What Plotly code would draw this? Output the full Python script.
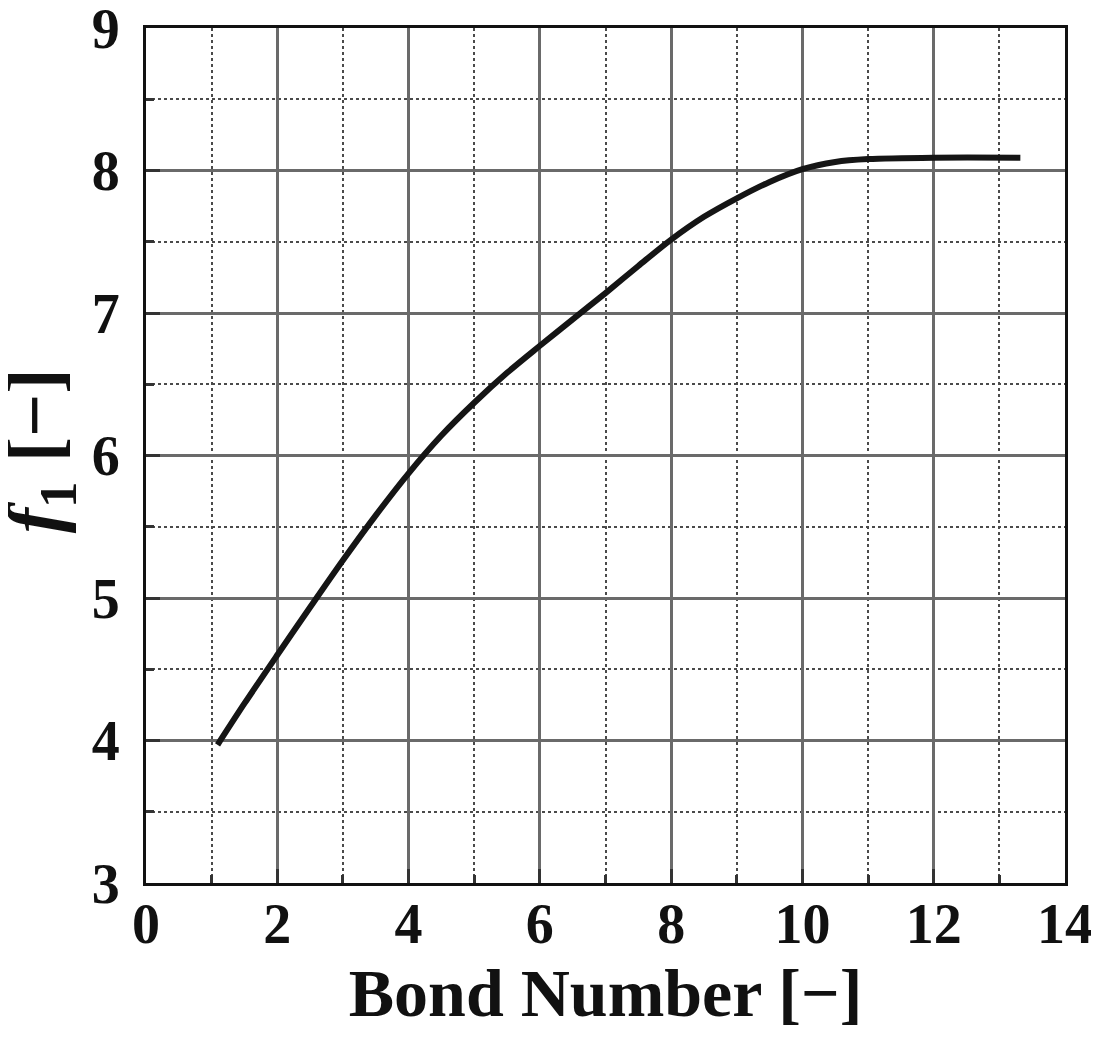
import plotly.graph_objects as go

# Bond number vs f1
bond_number = [1.09, 1.5, 2.0, 2.5, 3.0, 3.5, 4.0, 4.5, 5.0, 5.5, 6.0,
               6.5, 7.0, 7.5, 8.0, 8.5, 9.0, 9.5, 10.0, 10.5, 11.0, 12.0, 13.32]
f1_values = [3.97, 4.26, 4.60, 4.935, 5.265, 5.58, 5.875, 6.14, 6.37, 6.58, 6.77,
             6.955, 7.14, 7.33, 7.515, 7.675, 7.805, 7.92, 8.01, 8.06, 8.08, 8.09, 8.09]

x_ticks = [0, 2, 4, 6, 8, 10, 12, 14]
y_ticks = [3, 4, 5, 6, 7, 8, 9]

FONT = "Liberation Serif"

fig = go.Figure()

fig.add_trace(go.Scatter(
    x=bond_number,
    y=f1_values,
    mode='lines',
    line=dict(color='#151515', width=6, shape='spline', smoothing=0.9),
    showlegend=False
))

axis_common = dict(
    showline=True,
    linecolor='#111111',
    linewidth=3,
    mirror=True,
    ticks='inside',
    ticklen=14,
    tickwidth=3,
    tickcolor='#333333',
    showgrid=True,
    gridcolor='#6a6a6a',
    gridwidth=2.5,
    zeroline=False,
    automargin=False,
    ticklabeloverflow='allow',
    tickfont=dict(family=FONT, size=56, color='#111111'),
)

fig.update_xaxes(
    range=[0, 14],
    tickvals=x_ticks,
    ticktext=[f"<b>{v}</b>" for v in x_ticks],
    minor=dict(dtick=1, showgrid=True, gridcolor='#4a4a4a', gridwidth=2,
               griddash='dot', ticks='inside', ticklen=8, tickcolor='#333333'),
    ticklabelstandoff=-10,
    title=dict(text="<b>Bond Number [−]</b>",
               font=dict(family=FONT, size=68, color='#111111'),
               standoff=11),
    **axis_common
)

fig.update_yaxes(
    range=[3, 9],
    tickvals=y_ticks,
    ticktext=[f"<b>{v}</b>" for v in y_ticks],
    minor=dict(dtick=0.5, showgrid=True, gridcolor='#4a4a4a', gridwidth=2,
               griddash='dot', ticks='inside', ticklen=8, tickcolor='#333333'),
    ticklabelstandoff=12,
    **axis_common
)

# y-axis title placed as a rotated annotation so it sits further left
fig.add_annotation(
    text="<b><i>f</i><sub>1</sub> [−]</b>",
    xref='paper', yref='paper',
    x=0, y=0.505,
    xanchor='center', yanchor='middle',
    xshift=-106,
    textangle=-90,
    showarrow=False,
    font=dict(family=FONT, size=76, color='#111111'),
)

fig.update_layout(
    width=1099,
    height=1050,
    margin=dict(l=138, r=42, t=20, b=175),
    plot_bgcolor='white',
    paper_bgcolor='white',
    font=dict(family=FONT, color='#111111'),
)

fig.write_html("out.html")
